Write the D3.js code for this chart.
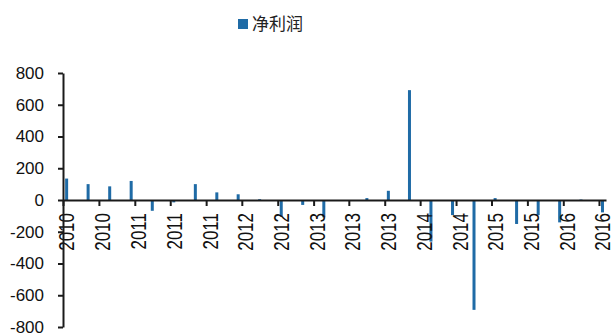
<!DOCTYPE html>
<html>
<head>
<meta charset="utf-8">
<script src="https://cdn.jsdelivr.net/npm/d3@7"></script>
<style>
  body { margin: 0; background: #fff; }
  svg { display: block; }
</style>
</head>
<body>
<svg id="chart" width="611" height="334"></svg>
<script>
// quarterly net profit, one bar per quarter-end month
const quarters = ["2010-03","2010-06","2010-09","2010-12","2011-03","2011-06","2011-09","2011-12",
  "2012-03","2012-06","2012-09","2012-12","2013-03","2013-06","2013-09","2013-12",
  "2014-03","2014-06","2014-09","2014-12","2015-03","2015-06","2015-09","2015-12",
  "2016-03","2016-06"];
const netProfit = [135, 100, 86, 120, -68, -15, 100, 48, 36, 5, -105, -31, -109, -3, 12, 58,
  692, -262, -95, -692, 12, -151, -95, -141, 3, -78];
// x ticks every 5 months starting 2010-03
const tickMonths = ["2010-03","2010-08","2011-01","2011-06","2011-11","2012-04","2012-09","2013-02",
  "2013-07","2013-12","2014-05","2014-10","2015-03","2015-08","2016-01","2016-06"];
const tickYears = ["2010","2010","2011","2011","2011","2012","2012","2013",
  "2013","2013","2014","2014","2015","2015","2016","2016"];
const yTicks = [-800, -600, -400, -200, 0, 200, 400, 600, 800];
const seriesName = "净利润";

const parseMonth = d3.timeParse("%Y-%m");
const color = "#1f6ba6";

const svg = d3.select("#chart");

const x = d3.scaleTime()
  .domain([parseMonth("2010-03"), parseMonth("2016-07")])
  .range([63, 606]);

const y = d3.scaleLinear()
  .domain([-800, 800])
  .range([327, 73]);

// bars sit in the middle of their month
const midMonth = s => {
  const d0 = parseMonth(s);
  const d1 = d3.timeMonth.offset(d0, 1);
  return new Date((+d0 + +d1) / 2);
};

svg.append("g")
  .selectAll("rect")
  .data(quarters.map((q, i) => ({ q, v: netProfit[i] })))
  .join("rect")
  .attr("x", d => x(midMonth(d.q)) - 1.5)
  .attr("width", 3)
  .attr("y", d => y(Math.max(0, d.v)))
  .attr("height", d => Math.abs(y(d.v) - y(0)))
  .attr("fill", color);

// x axis on the zero line
const xAxis = svg.append("g")
  .attr("transform", `translate(0,${y(0)})`)
  .call(d3.axisBottom(x)
    .tickValues(tickMonths.map(parseMonth))
    .tickFormat((d, i) => tickYears[i])
    .tickSize(6)
    .tickSizeOuter(0));

xAxis.select(".domain").attr("stroke", "#1a1a1a").attr("stroke-width", 2);
xAxis.selectAll(".tick line").attr("stroke", "#1a1a1a").attr("stroke-width", 2);
xAxis.selectAll(".tick text")
  .attr("font-family", "'Liberation Sans', Arial, sans-serif")
  .attr("font-size", 17)
  .attr("fill", "#111")
  .attr("text-anchor", "end")
  .attr("x", 0)
  .attr("y", 0)
  .attr("dy", "0.36em")
  .attr("transform", "translate(3,13) rotate(-90) scale(1,1.3)");

// y axis
const yAxis = svg.append("g")
  .attr("transform", "translate(63,0)")
  .call(d3.axisLeft(y)
    .tickValues(yTicks)
    .tickFormat(d => String(d))
    .tickSize(5)
    .tickSizeOuter(0)
    .tickPadding(14));

yAxis.select(".domain").attr("stroke", "#1a1a1a").attr("stroke-width", 2);
yAxis.selectAll(".tick line").attr("stroke", "#1a1a1a").attr("stroke-width", 2);
yAxis.selectAll(".tick text")
  .attr("font-family", "'Liberation Sans', Arial, sans-serif")
  .attr("font-size", 17)
  .attr("fill", "#111");

// legend
const legend = svg.append("g").attr("transform", "translate(238,19)");
legend.append("rect")
  .attr("width", 10)
  .attr("height", 10)
  .attr("fill", color);
legend.append("text")
  .attr("x", 14)
  .attr("y", 5)
  .attr("dy", "0.36em")
  .attr("font-family", "'Noto Sans CJK SC', sans-serif")
  .attr("font-size", 17)
  .attr("fill", "#222")
  .text(seriesName);
</script>
</body>
</html>
